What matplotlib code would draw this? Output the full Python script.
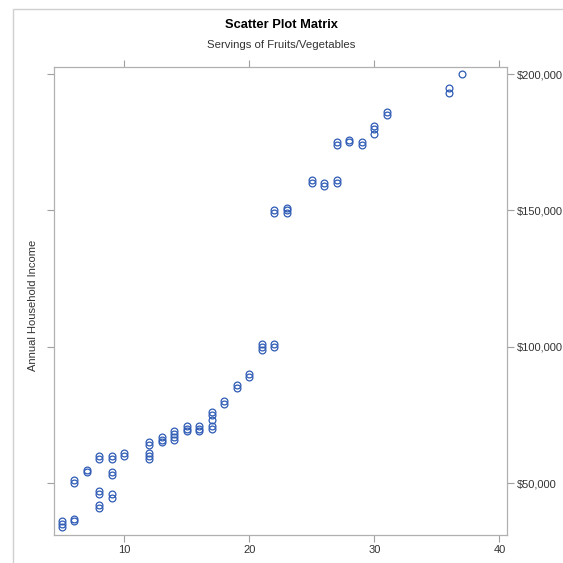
import numpy as np
import matplotlib.pyplot as plt
from matplotlib.patches import Rectangle
from matplotlib.ticker import FuncFormatter

# servings of fruits/vegetables and annual household income
servings = [5, 5, 5, 6, 6, 6, 6, 7, 7,
            8, 8, 8, 8, 8, 8, 9, 9, 9, 9, 9, 9, 10, 10,
            12, 12, 12, 12, 12, 13, 13, 13, 14, 14, 14, 14,
            15, 15, 15, 16, 16, 16, 17, 17, 17, 17, 17,
            18, 18, 19, 19, 20, 20, 21, 21, 21, 22, 22,
            22, 22, 23, 23, 23, 25, 25, 26, 26, 27, 27,
            27, 27, 28, 28, 29, 29, 30, 30, 30, 31, 31,
            36, 36, 37]
income = [34000, 35000, 36000, 36000, 37000, 50000, 51000, 54000, 55000,
          59000, 60000, 46000, 47000, 41000, 42000, 59000, 60000, 53000, 54000, 44500, 46000, 60000, 61000,
          64000, 65000, 59000, 60000, 61000, 65000, 66000, 67000, 66000, 67000, 68000, 69000,
          69000, 70000, 71000, 69000, 70000, 71000, 70000, 71000, 73000, 75000, 76000,
          79000, 80000, 85000, 86000, 89000, 90000, 99000, 100000, 101000, 100000, 101000,
          149000, 150000, 149000, 150000, 151000, 160000, 161000, 159000, 160000, 160000, 161000,
          174000, 175000, 175000, 176000, 174000, 175000, 178000, 180000, 181000, 185000, 186000,
          193000, 195000, 200000]

xticks = [10, 20, 30, 40]
yticks = [50000, 100000, 150000, 200000]

plt.rcParams['font.family'] = ['Liberation Sans', 'DejaVu Sans']

fig = plt.figure(figsize=(5.63, 5.63), dpi=100)
# light frame around the graph area
fig.patches.append(Rectangle((13/563, -0.1), 1.2, 0.1 + 1 - 9/563, transform=fig.transFigure,
                             fill=False, edgecolor='#d0d0d0', linewidth=1))

ax = fig.add_axes([54/563, 1 - 535/563, 453/563, 468/563])
ax.plot(servings, income, 'o', markerfacecolor='none', markeredgecolor='#2E5BB5',
        markersize=4.9, markeredgewidth=0.9)

ax.set_xlim(4.4, 40.6)
ax.set_ylim(31000, 202600)
ax.set_xticks(xticks)
ax.set_yticks(yticks)
ax.yaxis.set_major_formatter(FuncFormatter(lambda v, p: '${:,.0f}'.format(v)))

ax.tick_params(axis='both', direction='out', length=5, width=0.8, color='#a0a0a0',
               labelsize=8, labelcolor='#333333', pad=2)
ax.tick_params(axis='x', top=True, labeltop=False, bottom=True, labelbottom=True)
ax.tick_params(axis='y', left=True, labelleft=False, right=True, labelright=True)
for s in ax.spines.values():
    s.set_color('#b0b0b0')
    s.set_linewidth(0.9)

fig.text(0.5, 1 - 25/563, 'Scatter Plot Matrix', ha='center', va='center',
         fontsize=9.3, fontweight='bold', color='black')
fig.text(0.5, 1 - 45/563, 'Servings of Fruits/Vegetables', ha='center', va='center',
         fontsize=8.2, color='#333333')
fig.text(33/563, 1 - 305/563, 'Annual Household Income', ha='center', va='center',
         rotation=90, fontsize=8, color='#333333')

fig.savefig('out.png', dpi=100)
